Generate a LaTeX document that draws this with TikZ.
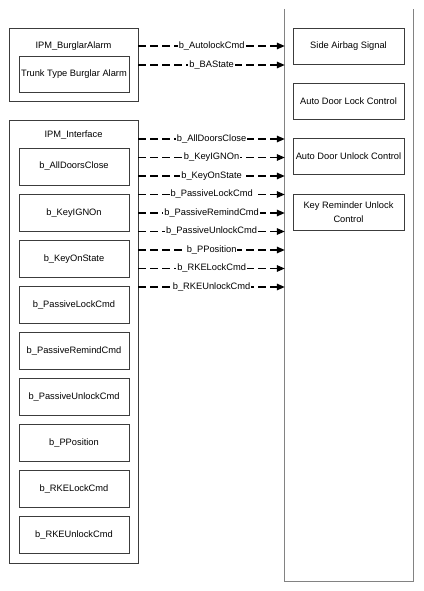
\documentclass[tikz,border=0pt]{standalone}
\usepackage{fontspec}
\setmainfont{Liberation Sans}
\definecolor{BoxLine}{RGB}{60, 60, 60}
\definecolor{BusLine}{RGB}{130, 130, 130}
\usetikzlibrary{arrows.meta, positioning}
\tikzset{
  outerbox/.style={draw=BoxLine, line width=0.9pt, minimum width=129pt, inner sep=0pt},
  signalbox/.style={draw=BoxLine, line width=0.9pt, minimum width=110pt, minimum height=37pt, inner sep=0pt, align=center},
  ctrlbox/.style={draw=BoxLine, line width=0.9pt, minimum width=111pt, minimum height=36pt, inner sep=0pt, align=center},
  sig/.style={line width=1.4pt, dash pattern=on 8pt off 4pt, -{Triangle[length=8pt, width=6.5pt]}},
  siglabel/.style={fill=white, inner sep=1pt, midway}
}

\begin{document}
\begin{tikzpicture}[x=1pt, y=-1pt, font=\fontsize{9.3}{11}\selectfont]
    \useasboundingbox (0,0) rectangle (423,591);

    % right side: controls on the bus
    \node[minimum width=128pt, minimum height=572pt, inner sep=0pt] (bus) at (349,295) {};
    \draw[BusLine, line width=0.9pt] (bus.north west) -- (bus.south west) -- (bus.south east) -- (bus.north east);
    \node[ctrlbox] (airbag) at (348.5,46) {Side Airbag Signal};
    \node[ctrlbox] (lock) at (348.5,101.5) {Auto Door Lock Control};
    \node[ctrlbox] (unlock) at (348.5,156.5) {Auto Door Unlock Control};
    \node[ctrlbox, font=\fontsize{9.3}{13.5}\selectfont] (remind) at (348.5,212) {Key Reminder Unlock\\Control};

    % left side: burglar alarm
    \node[outerbox, minimum height=73pt] (alarm) at (73.5,64.5) {};
    \node (alarmtitle) at (73.5,46) {IPM\_BurglarAlarm};
    \node[signalbox, minimum height=36pt] (trunk) at (74,74) {Trunk Type Burglar Alarm};

    % left side: interface
    \node[outerbox, minimum height=443pt] (iface) at (73.5,341.5) {};
    \node (ifacetitle) at (73.5,135) {IPM\_Interface};
    \node[signalbox] (doors) at (74,166.5) {b\_AllDoorsClose};
    \node[signalbox] (ign) at (74,212.6) {b\_KeyIGNOn};
    \node[signalbox] (keyon) at (74,258.7) {b\_KeyOnState};
    \node[signalbox] (plock) at (74,304.8) {b\_PassiveLockCmd};
    \node[signalbox] (premind) at (74,350.9) {b\_PassiveRemindCmd};
    \node[signalbox] (punlock) at (74,397) {b\_PassiveUnlockCmd};
    \node[signalbox] (ppos) at (74,443.1) {b\_PPosition};
    \node[signalbox] (rkelock) at (74,489.2) {b\_RKELockCmd};
    \node[signalbox] (rkeunlock) at (74,535.3) {b\_RKEUnlockCmd};

    % signals
    \draw[sig] (alarm.east |- 0,46) -- node[siglabel] {b\_AutolockCmd} (bus.west |- 0,46);
    \draw[sig] (alarm.east |- 0,65) -- node[siglabel] {b\_BAState} (bus.west |- 0,65);
    \draw[sig] (iface.east |- 0,139) -- node[siglabel] {b\_AllDoorsClose} (bus.west |- 0,139);
    \draw[sig] (iface.east |- 0,157.5) -- node[siglabel] {b\_KeyIGNOn} (bus.west |- 0,157.5);
    \draw[sig] (iface.east |- 0,176) -- node[siglabel] {b\_KeyOnState} (bus.west |- 0,176);
    \draw[sig] (iface.east |- 0,194.5) -- node[siglabel] {b\_PassiveLockCmd} (bus.west |- 0,194.5);
    \draw[sig] (iface.east |- 0,213) -- node[siglabel] {b\_PassiveRemindCmd} (bus.west |- 0,213);
    \draw[sig] (iface.east |- 0,231.5) -- node[siglabel] {b\_PassiveUnlockCmd} (bus.west |- 0,231.5);
    \draw[sig] (iface.east |- 0,250) -- node[siglabel] {b\_PPosition} (bus.west |- 0,250);
    \draw[sig] (iface.east |- 0,268.5) -- node[siglabel] {b\_RKELockCmd} (bus.west |- 0,268.5);
    \draw[sig] (iface.east |- 0,287) -- node[siglabel] {b\_RKEUnlockCmd} (bus.west |- 0,287);
\end{tikzpicture}
\end{document}
